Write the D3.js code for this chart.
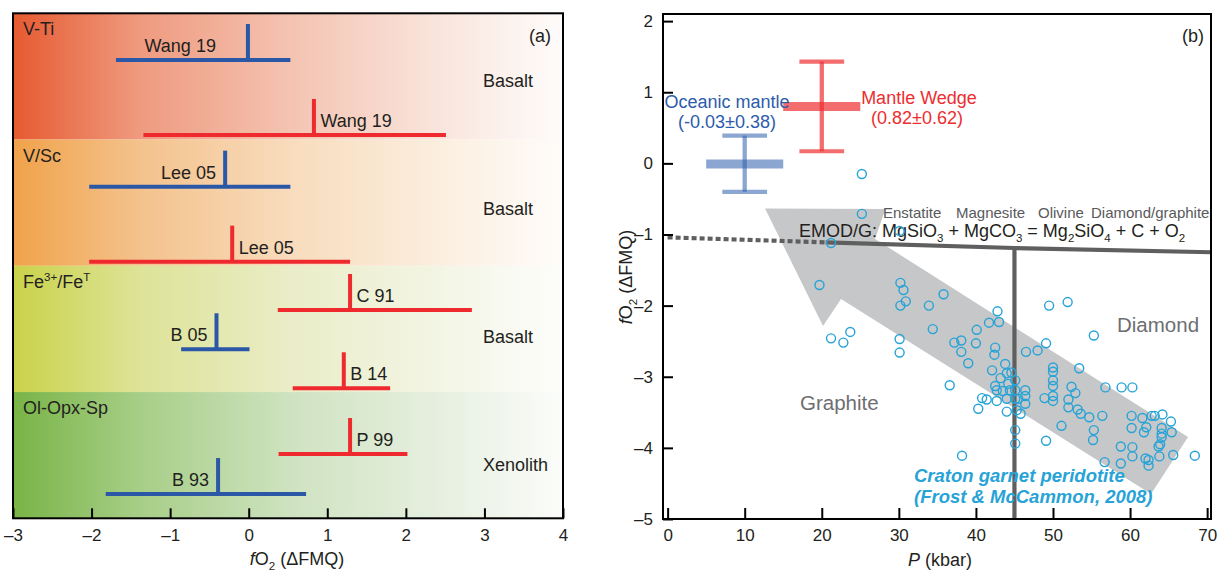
<!DOCTYPE html>
<html><head><meta charset="utf-8">
<script src="https://cdn.jsdelivr.net/npm/d3@7"></script>
<style>
body{margin:0;background:#fff}
svg{display:block}
text{font-family:"Liberation Sans",Arial,Helvetica,sans-serif}
</style>
</head><body>
<svg id="c" width="1218" height="572"></svg>
<script>
// ================= DATA: panel (a) =================
const methods = ["V-Ti", "V/Sc", "Fe3+/FeT", "Ol-Opx-Sp"];
const methodSetting = ["Basalt", "Basalt", "Basalt", "Xenolith"];
const entryLabel  = ["Wang 19", "Wang 19", "Lee 05", "Lee 05", "C 91", "B 05", "B 14", "P 99", "B 93"];
const entryGroup  = ["oceanic", "arc", "oceanic", "arc", "arc", "oceanic", "arc", "arc", "oceanic"];
const entryCenter = [-0.01, 0.83, -0.30, -0.21, 1.29, -0.41, 1.21, 1.29, -0.39];
const entryLow    = [-1.69, -1.34, -2.03, -2.03, 0.37, -0.86, 0.56, 0.38, -1.82];
const entryHigh   = [0.53, 2.51, 0.53, 1.29, 2.84, 0.01, 1.80, 2.02, 0.73];
// lane = position along the categorical method axis (band i spans i..i+1)
const entryLane   = [0.370, 0.964, 1.373, 1.967, 2.350, 2.661, 2.970, 3.491, 3.808];
const settingLane = [0.586, 1.598, 2.609, 3.625];
const xTicksA = [-3, -2, -1, 0, 1, 2, 3, 4];

// ================= DATA: panel (b) =================
const summaryName = ["Oceanic mantle", "Mantle Wedge"];
const summaryText = ["(-0.03\u00b10.38)", "(0.82\u00b10.62)"];
const summaryP    = [10, 20];
const summaryMean = [-0.01, 0.80];
const summaryLow  = [-0.40, 0.17];
const summaryHigh = [0.39, 1.43];
const emodDashed = [[0, -1.04], [20.5, -1.11]];
const emodSolid  = [[20.5, -1.11], [45, -1.19], [70.5, -1.25]];
const boundaryP = 45;
const arrowOutline = [[12.64, -0.634], [28.25, -0.641], [26.91, -1.063], [67.52, -3.847],
                      [62.72, -4.648], [22.5, -1.906], [20.16, -2.286]];
const periP = [25.2,25.2,30.1,21.2,19.7,30.2,30.6,35.8,30.9,30.2,33.9,42.8,51.9,49.5,55.3,
  21.2,22.8,23.7,30.1,30.1,34.4,37.2,38.1,38.1,39.0,36.6,38.2,40.1,41.7,43.0,40.0,42.5,42.4,43.8,
  42.1,43.2,42.5,42.7,43.5,44.2,40.8,41.4,42.7,40.3,44.0,44.0,44.0,49.1,48.0,46.5,44.6,45.1,44.4,
  45.1,46.4,46.4,45.1,45.5,46.4,45.3,45.8,45.1,45.1,49.1,50.0,50.0,50.0,50.0,48.9,50.0,50.0,53.4,
  52.4,52.9,52.0,52.0,53.2,53.6,54.7,51.1,55.3,55.2,56.4,56.8,58.9,60.3,56.7,58.8,58.8,60.2,60.2,
  60.3,60.3,61.6,62.1,61.8,62.8,63.2,64.2,65.3,64.1,64.1,64.1,65.4,63.9,63.7,62.0,62.4,62.4,63.8,
  65.6,68.4];
const periFO2 = [-0.15,-0.71,-0.95,-1.12,-1.71,-1.68,-1.78,-1.84,-1.94,-2.00,-2.00,-2.08,-1.95,-2.00,-2.42,
  -2.46,-2.52,-2.37,-2.47,-2.66,-2.33,-2.52,-2.49,-2.65,-2.81,-3.12,-4.11,-2.34,-2.24,-2.23,-2.53,-2.59,-2.69,-2.82,
  -2.91,-3.02,-3.13,-3.19,-3.20,-3.10,-3.30,-3.32,-3.34,-3.45,-3.49,-3.31,-2.95,-2.53,-2.63,-2.65,-2.94,-3.05,-3.19,
  -3.19,-3.19,-3.27,-3.31,-3.31,-3.38,-3.47,-3.52,-3.75,-3.94,-3.90,-2.87,-2.93,-3.05,-3.13,-3.30,-3.27,-3.34,-2.88,
  -3.14,-3.23,-3.32,-3.43,-3.46,-3.52,-3.57,-3.69,-3.75,-3.89,-3.55,-3.15,-3.15,-3.15,-4.20,-3.98,-4.22,-3.55,-3.72,
  -3.99,-4.12,-3.58,-3.71,-3.78,-3.55,-3.55,-3.53,-3.63,-3.72,-3.80,-3.85,-3.78,-3.95,-3.98,-4.15,-4.17,-4.25,-4.12,
  -4.10,-4.11];
const xTicksB = [0, 10, 20, 30, 40, 50, 60, 70];
const yTicksB = [-5, -4, -3, -2, -1, 0, 1, 2];

// ================= LAYOUT / STYLE =================
const TXT = "#231f20", BLUE = "#2b57a7", RED = "#ee2a2e", CYAN = "#27a3d7", GREYTXT = "#6d6e71";
const svg = d3.select("#c");
const defs = svg.append("defs");
const dash = v => v < 0 ? "\u2013" + Math.abs(v) : String(v);

function rich(sel, parts) {
  let shift = 0;
  parts.forEach(([t, s]) => {
    const ts = sel.append("tspan").text(t);
    const target = s === "sub" ? 4.5 : s === "sup" ? -6.5 : 0;
    const dy = target - shift;
    if (dy) ts.attr("dy", dy);
    shift = target;
    if (s === "sub" || s === "sup") ts.attr("font-size", "0.64em");
    if (s === "i") ts.attr("font-style", "italic");
  });
  return sel;
}

// ---------- Panel (a) ----------
const xA = d3.scaleLinear().domain([-3, 4]).range([13, 563]);
const lane = d3.scaleLinear().domain([0, 4]).range([13.3, 518.3]);
const gA = svg.append("g");
const bandStops = [
  [[0, "#e65a31"], [0.23, "#ef9a7f"], [0.51, "#f4c4b2"], [0.77, "#f9e4dc"], [1, "#fefcfb"]],
  [[0, "#f0a24a"], [0.23, "#f4c28c"], [0.51, "#f8dcbd"], [0.77, "#fbeede"], [1, "#fefcfa"]],
  [[0, "#cad24a"], [0.23, "#dde397"], [0.51, "#eaedc8"], [0.77, "#f3f5e4"], [1, "#fdfdfb"]],
  [[0, "#78b446"], [0.23, "#a7ce87"], [0.51, "#cfe3c1"], [0.77, "#e6efdf"], [1, "#fbfcfa"]]
];
methods.forEach((m, i) => {
  const lg = defs.append("linearGradient").attr("id", "band" + i)
    .attr("x1", 0).attr("x2", 1).attr("y1", 0).attr("y2", 0);
  bandStops[i].forEach(([o, c]) => lg.append("stop").attr("offset", o).attr("stop-color", c));
  gA.append("rect").attr("x", xA(-3)).attr("y", lane(i))
    .attr("width", xA(4) - xA(-3)).attr("height", lane(i + 1) - lane(i))
    .attr("fill", `url(#band${i})`);
  const t = gA.append("text").attr("x", 23).attr("y", lane(i) + 22)
    .attr("font-size", 18).attr("fill", TXT);
  if (m === "Fe3+/FeT") rich(t, [["Fe"], ["3+", "sup"], ["/Fe"], ["T", "sup"]]);
  else t.text(m);
  gA.append("text").attr("x", 483).attr("y", lane(settingLane[i]))
    .attr("font-size", 18).attr("fill", TXT).text(methodSetting[i]);
});
const labelNudge = {0: -23};
entryLabel.forEach((lab, i) => {
  const col = entryGroup[i] === "arc" ? RED : BLUE;
  const y = lane(entryLane[i]);
  const cx = xA(entryCenter[i]);
  gA.append("line").attr("x1", xA(entryLow[i])).attr("x2", xA(entryHigh[i]))
    .attr("y1", y).attr("y2", y).attr("stroke", col).attr("stroke-width", 4);
  gA.append("line").attr("x1", cx).attr("x2", cx).attr("y1", y - 36).attr("y2", y)
    .attr("stroke", col).attr("stroke-width", 4);
  const isArc = entryGroup[i] === "arc";
  gA.append("text").attr("x", isArc ? cx + 6.5 : cx - 9 + (labelNudge[i] || 0)).attr("y", y - 8)
    .attr("text-anchor", isArc ? "start" : "end")
    .attr("font-size", 18).attr("fill", TXT).text(lab);
});
gA.append("text").attr("x", 529).attr("y", 41.5).attr("font-size", 18).attr("fill", TXT).text("(a)");
const axA = gA.append("g").attr("transform", `translate(0,${lane(4)})`)
  .call(d3.axisBottom(xA).tickValues(xTicksA).tickSize(-10).tickPadding(11).tickFormat(dash));
axA.select(".domain").remove();
axA.selectAll(".tick line").attr("stroke", "#000").attr("stroke-width", 2);
axA.selectAll(".tick text").attr("font-size", 17).attr("fill", TXT)
  .style("font-family", '"Liberation Sans",Arial,sans-serif');
gA.append("rect").attr("x", xA(-3)).attr("y", lane(0)).attr("width", xA(4) - xA(-3))
  .attr("height", lane(4) - lane(0)).attr("fill", "none").attr("stroke", "#000").attr("stroke-width", 2);
rich(gA.append("text").attr("x", 297).attr("y", 565).attr("text-anchor", "middle")
  .attr("font-size", 18).attr("fill", TXT), [["f", "i"], ["O"], ["2", "sub"], [" (\u0394FMQ)"]]);

// ---------- Panel (b) ----------
const xB = d3.scaleLinear().domain([-0.6, 70.5]).range([663, 1211]);
const yB = d3.scaleLinear().domain([-5, 2.1]).range([519, 14]);
const gB = svg.append("g");
gB.append("path").datum(arrowOutline)
  .attr("d", d3.line().x(d => xB(d[0])).y(d => yB(d[1])).curve(d3.curveLinearClosed))
  .attr("fill", "#c6c7c8");
const ln = d3.line().x(d => xB(d[0])).y(d => yB(d[1]));
gB.append("path").datum(emodDashed).attr("d", ln).attr("fill", "none")
  .attr("stroke", "#5f5f5f").attr("stroke-width", 4.2).attr("stroke-dasharray", "5,3");
gB.append("path").datum(emodSolid).attr("d", ln).attr("fill", "none")
  .attr("stroke", "#5f5f5f").attr("stroke-width", 4.2);
gB.append("line").attr("x1", xB(boundaryP)).attr("x2", xB(boundaryP))
  .attr("y1", yB(-1.19)).attr("y2", yB(-5)).attr("stroke", "#5f5f5f").attr("stroke-width", 4.2);

// summary error bars
const sumCol = ["#2c5cab", "#ee2d31"];
const sumOpacity = [0.55, 0.7];
summaryName.forEach((n, i) => {
  const g = gB.append("g").attr("opacity", 1);
  const p = summaryP[i];
  const mk = (x1, x2, y1, y2, w) => g.append("line")
    .attr("x1", xB(x1)).attr("x2", xB(x2)).attr("y1", yB(y1)).attr("y2", yB(y2))
    .attr("stroke", sumCol[i]).attr("stroke-opacity", sumOpacity[i]).attr("stroke-width", w);
  mk(p - 5, p + 5, summaryMean[i], summaryMean[i], 9);
  mk(p, p, summaryLow[i], summaryHigh[i], 4.3);
  mk(p - 2.9, p + 2.9, summaryLow[i], summaryLow[i], 4.2);
  mk(p - 2.9, p + 2.9, summaryHigh[i], summaryHigh[i], 4.2);
});
gB.append("text").attr("x", 727).attr("y", 108).attr("text-anchor", "middle")
  .attr("font-size", 18).attr("fill", sumCol[0]).text(summaryName[0]);
gB.append("text").attr("x", 727).attr("y", 127.5).attr("text-anchor", "middle")
  .attr("font-size", 18).attr("fill", sumCol[0]).text(summaryText[0]);
gB.append("text").attr("x", 919).attr("y", 104).attr("text-anchor", "middle")
  .attr("font-size", 18).attr("fill", sumCol[1]).text(summaryName[1]);
gB.append("text").attr("x", 917).attr("y", 123.5).attr("text-anchor", "middle")
  .attr("font-size", 18).attr("fill", sumCol[1]).text(summaryText[1]);

// reaction labels
[["Enstatite", 883], ["Magnesite", 956], ["Olivine", 1038], ["Diamond/graphite", 1091]].forEach(([t, x]) =>
  gB.append("text").attr("x", x).attr("y", 218).attr("font-size", 15).attr("fill", "#58595b").text(t));
rich(gB.append("text").attr("x", 799).attr("y", 237).attr("font-size", 18).attr("fill", TXT),
  [["EMOD/G: MgSiO"], ["3", "sub"], [" + MgCO"], ["3", "sub"], [" = Mg"], ["2", "sub"], ["SiO"], ["4", "sub"],
   [" + C + O"], ["2", "sub"]]);
gB.append("text").attr("x", 1117).attr("y", 332).attr("font-size", 20.5).attr("fill", GREYTXT).text("Diamond");
gB.append("text").attr("x", 800).attr("y", 410).attr("font-size", 20.5).attr("fill", GREYTXT).text("Graphite");
gB.append("text").attr("x", 914).attr("y", 482).attr("font-size", 18.5).attr("font-weight", "bold")
  .attr("font-style", "italic").attr("fill", CYAN).text("Craton garnet peridotite");
gB.append("text").attr("x", 914).attr("y", 503).attr("font-size", 18.5).attr("font-weight", "bold")
  .attr("font-style", "italic").attr("fill", CYAN).text("(Frost & McCammon, 2008)");

// points
gB.append("g").selectAll("circle").data(periP.map((p, i) => [p, periFO2[i]])).join("circle")
  .attr("cx", d => xB(d[0])).attr("cy", d => yB(d[1])).attr("r", 4.5)
  .attr("fill", "none").attr("stroke", CYAN).attr("stroke-width", 1.4);

gB.append("text").attr("x", 1182).attr("y", 41.5).attr("font-size", 18).attr("fill", TXT).text("(b)");

// axes
const axBx = gB.append("g").attr("transform", `translate(0,${yB(-5)})`)
  .call(d3.axisBottom(xB).tickValues(xTicksB).tickSize(-11).tickPadding(10));
const axBy = gB.append("g").attr("transform", `translate(${xB(-0.6)},0)`)
  .call(d3.axisLeft(yB).tickValues(yTicksB).tickSize(-10).tickPadding(10).tickFormat(dash));
[axBx, axBy].forEach(a => {
  a.select(".domain").remove();
  a.selectAll(".tick line").attr("stroke", "#000").attr("stroke-width", 2);
  a.selectAll(".tick text").attr("font-size", 17).attr("fill", TXT)
    .style("font-family", '"Liberation Sans",Arial,sans-serif');
});
gB.append("rect").attr("x", 663).attr("y", 14).attr("width", 548).attr("height", 505)
  .attr("fill", "none").attr("stroke", "#000").attr("stroke-width", 2);
rich(gB.append("text").attr("transform", "translate(632,277) rotate(-90)").attr("text-anchor", "middle")
  .attr("font-size", 18).attr("fill", TXT), [["f", "i"], ["O"], ["2", "sub"], [" (\u0394FMQ)"]]);
rich(gB.append("text").attr("x", 940).attr("y", 566).attr("text-anchor", "middle")
  .attr("font-size", 18).attr("fill", TXT), [["P", "i"], [" (kbar)"]]);
</script>
</body></html>
